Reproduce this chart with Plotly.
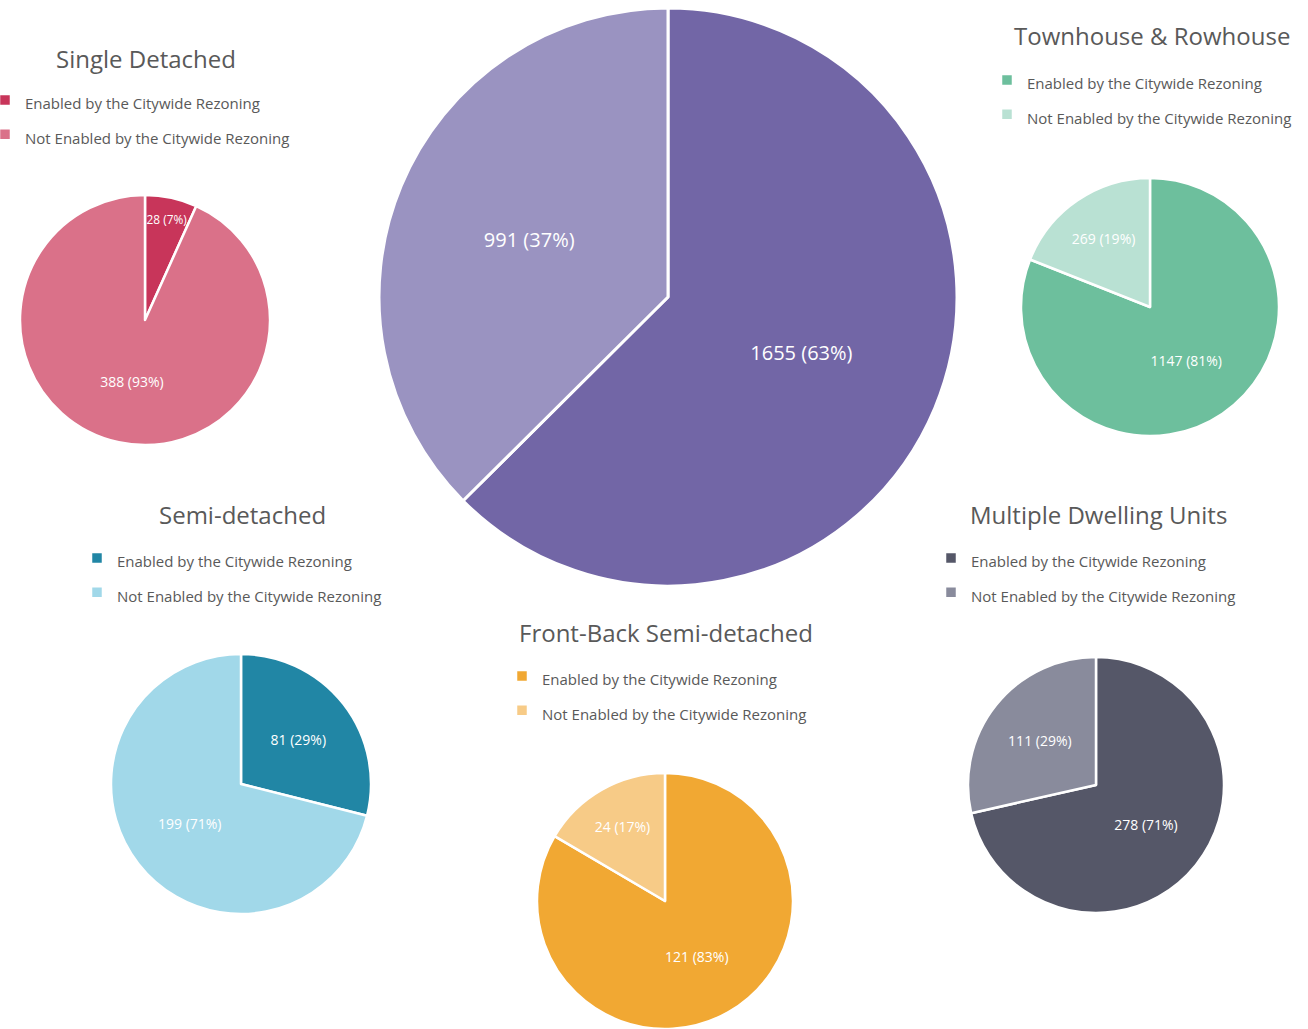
import plotly.graph_objects as go

W, H = 1308, 1029

categories = ["Enabled by the Citywide Rezoning", "Not Enabled by the Citywide Rezoning"]

total_values = [1655, 991]
single_detached = [28, 388]
townhouse = [1147, 269]
semi_detached = [81, 199]
front_back = [121, 24]
mdu = [278, 111]

titles = ["Single Detached", "Townhouse & Rowhouse", "Semi-detached",
          "Front-Back Semi-detached", "Multiple Dwelling Units"]

FONT = "Open Sans"
GREY = "#595959"
LEG_TEXT = 15


def dom(cx, cy, r):
    x0 = max(0, (cx - r) / W)
    x1 = min(1, (cx + r) / W)
    y0 = max(0, 1 - (cy + r) / H)
    y1 = min(1, 1 - (cy - r) / H)
    return dict(x=[x0, x1], y=[y0, y1])


legend_labels = [f"<span style='font-size:{LEG_TEXT}px'>{c}</span>" for c in categories]

fig = go.Figure()

# central total pie
fig.add_trace(go.Pie(
    labels=categories, values=total_values, sort=False, direction="clockwise",
    rotation=0, domain=dom(668, 297, 289), showlegend=False, legendgroup="total",
    marker=dict(colors=["#7266A6", "#9A93C1"], line=dict(color="white", width=3)),
    texttemplate="%{value} (%{percent:.0%})", textposition="inside",
    insidetextorientation="horizontal",
    textfont=dict(family=FONT, size=20, color="white"), hoverinfo="value+percent",
))

small = [
    (single_detached, ["#C8355A", "#DA7189"], (145, 320, 125), "legend"),
    (townhouse, ["#6DBF9D", "#B9E1D3"], (1150, 307, 129), "legend2"),
    (semi_detached, ["#2186A5", "#A1D8E9"], (241, 784, 130), "legend3"),
    (front_back, ["#F1A833", "#F7CB87"], (665, 901, 128), "legend4"),
    (mdu, ["#555768", "#898B9C"], (1096, 785, 128), "legend5"),
]

for i, (vals, cols, (cx, cy, r), lg) in enumerate(small):
    fig.add_trace(go.Pie(
        labels=legend_labels, values=vals, sort=False, direction="clockwise",
        rotation=0, domain=dom(cx, cy, r), legend=lg, legendgroup=f"g{i}",
        marker=dict(colors=cols, line=dict(color="white", width=2.5)),
        texttemplate="%{value} (%{percent:.0%})", textposition="inside",
        insidetextorientation="horizontal", hoverinfo="value+percent",
        textfont=dict(family=FONT, size=14, color="white"),
    ))

# titles
title_pos = [(146, 58), (1152, 36), (242, 514), (666, 632), (1098, 514)]
for t, (x, y) in zip(titles, title_pos):
    fig.add_annotation(text=t, x=x / W, y=1 - y / H, xref="paper", yref="paper",
                       xanchor="center", yanchor="middle", showarrow=False,
                       font=dict(family=FONT, size=24, color=GREY))

# legends (text start x, first item y)
leg_pos = [(25, 102), (1027, 82), (117, 560), (542, 678), (971, 560)]
legend_defs = {}
for i, (tx, ty) in enumerate(leg_pos):
    name = "legend" if i == 0 else f"legend{i + 1}"
    legend_defs[name] = dict(
        x=(tx - 40) / W, y=1 - (ty - 24) / H, xanchor="left", yanchor="top",
        bgcolor="rgba(0,0,0,0)", borderwidth=0, orientation="v",
        font=dict(family=FONT, size=24, color=GREY), itemclick=False,
    )

fig.update_layout(
    width=W, height=H, margin=dict(l=0, r=0, t=0, b=0, autoexpand=False),
    paper_bgcolor="white", plot_bgcolor="white",
    **legend_defs,
)

fig.write_html(
    "out.html",
    config={"displayModeBar": False},
    post_script="document.body.style.margin='0';document.body.style.overflow='hidden';",
)
